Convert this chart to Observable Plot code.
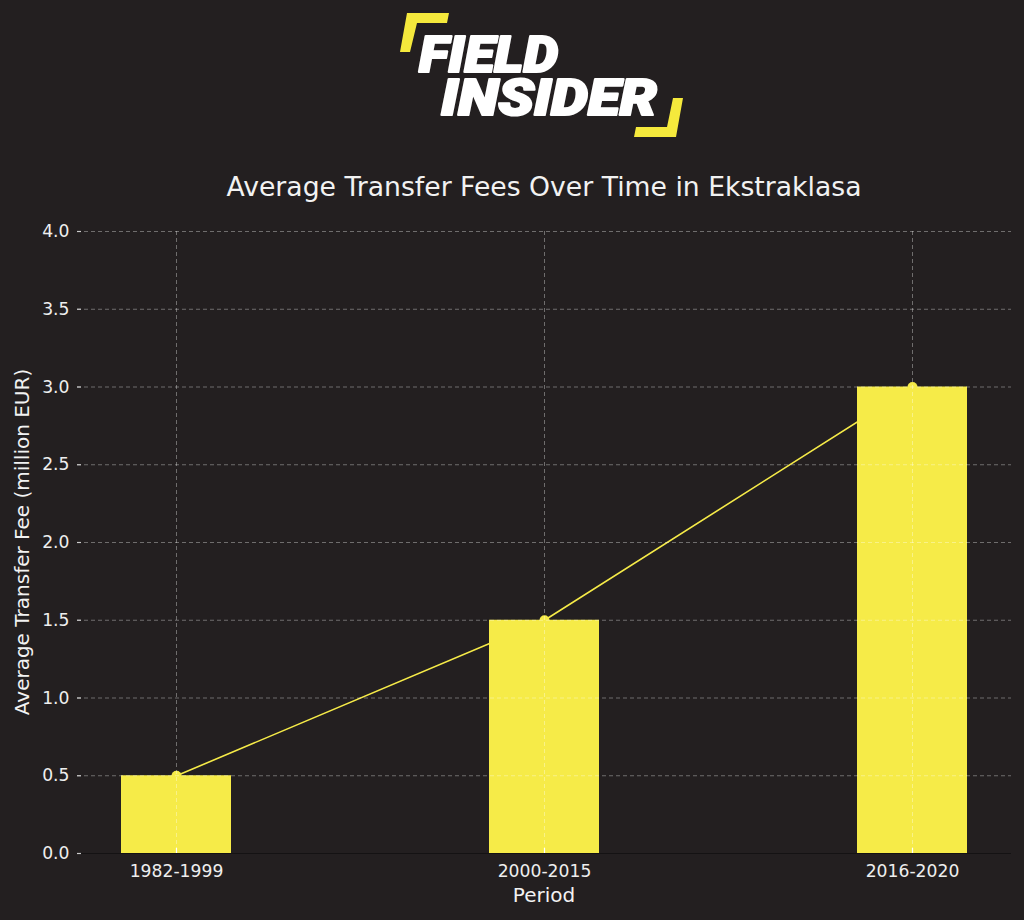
<!DOCTYPE html>
<html><head><meta charset="utf-8">
<script src="https://cdn.jsdelivr.net/npm/d3@7"></script>
<script src="https://cdn.jsdelivr.net/npm/@observablehq/plot@0.6"></script>
<style>
html,body{margin:0;padding:0;background:#231f20;}
#wrap{position:relative;width:1024px;height:920px;overflow:hidden;background:#231f20;}
#chart,#overlay{position:absolute;left:0;top:0;}
</style></head><body>
<div id="wrap"><div id="chart"></div>
<svg id="overlay" width="1024" height="920" xmlns="http://www.w3.org/2000/svg" style="pointer-events:none">
  <g id="logo">
    <polygon points="407,13 449,13 447,23 417,23 410,52 400,52" fill="#f5e93c"/>
    <polygon points="673,98 683,98 676,137 634,137 636,127 667,127" fill="#f5e93c"/>
    <text fill="#ffffff" stroke="#ffffff" stroke-width="2.2" stroke-linejoin="round" font-family="Roboto, Lato, sans-serif" font-weight="900" font-style="italic" font-size="50"><tspan x="419" y="72" textLength="139" lengthAdjust="spacingAndGlyphs">FIELD</tspan><tspan x="441" y="115" textLength="216" lengthAdjust="spacingAndGlyphs">INSIDER</tspan></text>
  </g>
  <text id="title" x="544" y="196" text-anchor="middle" fill="#f2f2f2" font-family="DejaVu Sans" font-size="26.67">Average Transfer Fees Over Time in Ekstraklasa</text>
  <text id="ylabel" transform="translate(29,542) rotate(-90)" text-anchor="middle" fill="#f2f2f2" font-family="DejaVu Sans" font-size="20">Average Transfer Fee (million EUR)</text>
  <text id="xlabel" x="544" y="902" text-anchor="middle" fill="#f2f2f2" font-family="DejaVu Sans" font-size="20">Period</text>
</svg>
</div>
<script>
const periods = ["1982-1999", "2000-2015", "2016-2020"];
const fees = [0.5, 1.5, 3.0];
const yTicks = [0, 0.5, 1.0, 1.5, 2.0, 2.5, 3.0, 3.5, 4.0];

const data = periods.map((p, i) => ({period: p, fee: fees[i]}));
const W = 1024, H = 920, mL = 77, mR = 13, mT = 231, mB = 67;
const yellow = "#f6eb48";

const chart = Plot.plot({
  width: W, height: H,
  marginLeft: mL, marginRight: mR, marginTop: mT, marginBottom: mB,
  style: {background: "#231f20", color: "#eeeeee", fontFamily: "DejaVu Sans", fontSize: "16.67px"},
  x: {type: "band", domain: periods, paddingInner: 0.702, paddingOuter: 0.1167, label: null},
  y: {domain: [0, 4], label: null},
  marks: [
    Plot.line(data, {x: "period", y: "fee", stroke: yellow, strokeWidth: 1.6}),
    Plot.dot(data, {x: "period", y: "fee", r: 5, fill: yellow, stroke: "none"}),
    Plot.barY(data, {x: "period", y: "fee", fill: yellow}),
    Plot.ruleY(yTicks, {stroke: "#ffffff", strokeOpacity: 0.35, strokeDasharray: "4,3"}),
    Plot.ruleX(periods, {stroke: "#ffffff", strokeOpacity: 0.35, strokeDasharray: "4,3"}),
    Plot.ruleY([0], {stroke: "#141213", strokeWidth: 1.2}),
    Plot.ruleY(yTicks, {insetRight: W - mL - mR - 4, stroke: "#cccccc", strokeWidth: 1.2}),
    Plot.ruleX(periods, {insetTop: H - mT - mB - 5, stroke: "#ffffff", strokeWidth: 1.2}),
    Plot.axisY({ticks: yTicks, tickFormat: d3.format(".1f"), tickSize: 0, tickPadding: 8, label: null, fontSize: 17.2}),
    Plot.axisX({tickSize: 0, tickPadding: 11, label: null, fontSize: 17.2})
  ]
});
document.getElementById("chart").appendChild(chart);
</script>
</body></html>
